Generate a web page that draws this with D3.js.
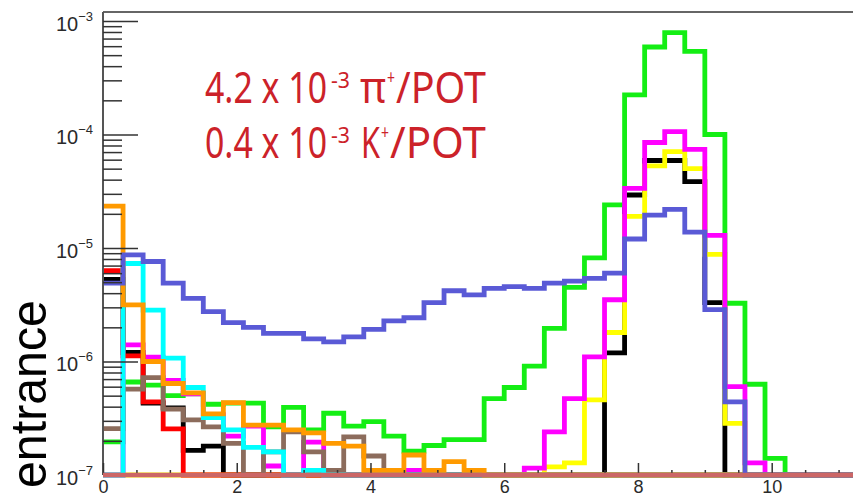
<!DOCTYPE html>
<html>
<head>
<meta charset="utf-8">
<script src="https://cdn.jsdelivr.net/npm/d3@7"></script>
<style>
  body { margin: 0; background: #fff; }
  svg { display: block; }
</style>
</head>
<body>
<svg id="chart" width="853" height="496"></svg>
<script>
// Histogram binning: 40 bins of 0.3 from 0 to 12
const binWidth = 0.3;

// Bin contents per species (entries per POT), bin i covers [0.3*i, 0.3*(i+1))
const black  = [5.3e-6, 1.2e-6, 4.3e-7, 3.9e-7, 1.65e-7, 1.8e-7, 0, 0, 0, 0,
                0, 0, 0, 0, 0, 0, 0, 0, 0, 0,
                0, 0, 0, 0, 0, 1.19e-6, 2.93e-5, 5.9e-5, 5.9e-5, 3.84e-5,
                3.3e-6, 0, 0, 0, 0, 0, 0, 0, 0, 0];
const yellow = [0, 0, 0, 0, 0, 0, 0, 0, 0, 0,
                0, 0, 0, 0, 0, 0, 0, 0, 0, 0,
                0, 0, 1.18e-7, 1.28e-7, 4.6e-7, 1.8e-6, 1.9e-5, 5.3e-5, 7.06e-5, 5.0e-5,
                8.8e-6, 2.85e-7, 0, 0, 0, 0, 0, 0, 0, 0];
const green  = [1.96e-7, 6.6e-7, 6.2e-7, 5.0e-7, 5.2e-7, 4.2e-7, 4.3e-7, 4.3e-7, 2.66e-7, 3.95e-7,
                2.5e-7, 3.5e-7, 2.7e-7, 2.95e-7, 2.2e-7, 1.62e-7, 1.82e-7, 2.05e-7, 2.05e-7, 4.7e-7,
                5.9e-7, 9.1e-7, 1.96e-6, 4.5e-6, 8.2e-6, 2.4e-5, 2.23e-4, 5.9e-4, 7.9e-4, 5.4e-4,
                1.0e-4, 3.26e-6, 6.3e-7, 1.4e-7, 0, 0, 0, 0, 0, 0];
const magenta = [0, 1.4e-6, 1.09e-6, 6.8e-7, 5.2e-7, 3.4e-7, 2.2e-7, 2.7e-7, 1.2e-7, 0,
                1.95e-7, 0, 0, 0, 0, 1.1e-7, 0, 0, 0, 0,
                0, 1.15e-7, 2.4e-7, 4.7e-7, 1.1e-6, 3.5e-6, 3.35e-5, 8.5e-5, 1.06e-4, 7.4e-5,
                1.29e-5, 6.0e-7, 1.28e-7, 0, 0, 0, 0, 0, 0, 0];
const red    = [6.3e-6, 1.12e-6, 4.4e-7, 2.55e-7, 0, 0, 0, 0, 0, 0,
                0, 0, 0, 0, 0, 0, 0, 0, 0, 0,
                0, 0, 0, 0, 0, 0, 0, 0, 0, 0,
                0, 0, 0, 0, 0, 0, 0, 0, 0, 0];
const brown  = [2.56e-7, 5.7e-7, 7.2e-7, 3.8e-7, 3.06e-7, 2.66e-7, 1.9e-7, 0, 1.6e-7, 2.4e-7,
                1.6e-7, 1.1e-7, 2.17e-7, 1.47e-7, 0, 0, 0, 0, 0, 0,
                0, 0, 0, 0, 0, 0, 0, 0, 0, 0,
                0, 0, 0, 0, 0, 0, 0, 0, 0, 0];
const cyan   = [0, 7.3e-6, 2.84e-6, 1.07e-6, 5.9e-7, 3.2e-7, 2.5e-7, 1.75e-7, 1.6e-7, 0,
                1.1e-7, 0, 0, 0, 0, 0, 0, 0, 0, 0,
                0, 0, 0, 0, 0, 0, 0, 0, 0, 0,
                0, 0, 0, 0, 0, 0, 0, 0, 0, 0];
const orange = [2.34e-5, 3.15e-6, 1.0e-6, 6.4e-7, 5.3e-7, 3.45e-7, 4.35e-7, 2.75e-7, 2.75e-7, 2.5e-7,
                2.35e-7, 1.9e-7, 1.8e-7, 1.1e-7, 1.1e-7, 1.5e-7, 1.1e-7, 1.31e-7, 1.1e-7, 0,
                0, 0, 0, 0, 0, 0, 0, 0, 0, 0,
                0, 0, 0, 0, 0, 0, 0, 0, 0, 0];
const blue   = [4.9e-6, 8.7e-6, 7.6e-6, 4.9e-6, 3.6e-6, 2.75e-6, 2.2e-6, 2.0e-6, 1.77e-6, 1.77e-6,
                1.58e-6, 1.49e-6, 1.65e-6, 1.92e-6, 2.28e-6, 2.43e-6, 3.3e-6, 4.2e-6, 3.86e-6, 4.4e-6,
                4.56e-6, 4.4e-6, 4.9e-6, 5.1e-6, 5.4e-6, 6.0e-6, 1.2e-5, 1.95e-5, 2.19e-5, 1.38e-5,
                2.86e-6, 4.4e-7, 0, 0, 0, 0, 0, 0, 0, 0];

// Axis tick values and labels
const xMajorTicks = [0, 2, 4, 6, 8, 10];
const xMinorTicks = d3.range(0, 11.51, 0.5).filter(v => v % 2 !== 0);
const yDecades = [1e-7, 1e-6, 1e-5, 1e-4, 1e-3];
const yDecadeExp = ["−7", "−6", "−5", "−4", "−3"];

// Drawing order: first listed is underneath
const series = [
  { values: black,   color: "#000000" },
  { values: yellow,  color: "#ffff00" },
  { values: green,   color: "#14ee14" },
  { values: magenta, color: "#ff00ff" },
  { values: red,     color: "#ff0000" },
  { values: brown,   color: "#8c6c5c" },
  { values: cyan,    color: "#00ffff" },
  { values: orange,  color: "#ff9a00" },
  { values: blue,    color: "#5a5ad6" }
];

const svg = d3.select("#chart");
const frameLeft = 103, frameBottom = 475, frameTop = 12, frameRight = 853;
const pxPerUnit = 66.87;

const x = d3.scaleLinear().domain([0, 12]).range([frameLeft, frameLeft + 12 * pxPerUnit]);
const y = d3.scaleLog().domain([1e-7, 1.2e-3]).range([frameBottom, frameTop]);
const yMin = y.domain()[0];

// Histograms as step lines
const line = d3.line()
  .x(d => x(d.x))
  .y(d => y(d.v > yMin ? d.v : yMin))
  .curve(d3.curveStepAfter);

const plot = svg.append("g");
plot.append("clipPath").attr("id", "frame")
  .append("rect").attr("x", frameLeft).attr("y", frameTop)
  .attr("width", frameRight - frameLeft).attr("height", frameBottom - frameTop + 4);

const hist = plot.append("g").attr("clip-path", "url(#frame)");
series.forEach(s => {
  const pts = s.values.map((v, i) => ({ x: i * binWidth, v }));
  pts.push({ x: s.values.length * binWidth, v: s.values[s.values.length - 1] });
  hist.append("path")
    .attr("d", line(pts))
    .attr("fill", "none")
    .attr("stroke", s.color)
    .attr("stroke-width", 4.8)
    .attr("stroke-linejoin", "miter");
});

// Frame lines
svg.append("line")
  .attr("x1", frameLeft).attr("x2", frameRight).attr("y1", frameTop).attr("y2", frameTop)
  .attr("stroke", "#666").attr("stroke-width", 2);
svg.append("line")
  .attr("x1", frameLeft).attr("x2", frameLeft).attr("y1", frameTop).attr("y2", frameBottom)
  .attr("stroke", "#555").attr("stroke-width", 2);

// Y axis ticks (drawn inward, to the right of the axis line)
const yMinor = [];
yDecades.slice(0, -1).forEach(d => { for (let k = 2; k <= 9; k++) yMinor.push(d * k); });
for (let k = 2; k <= 9; k++) if (1e-3 * k <= y.domain()[1]) yMinor.push(1e-3 * k);

const yAxisMajor = d3.axisRight(y).tickValues(yDecades).tickSize(35).tickFormat("");
const yAxisMinor = d3.axisRight(y).tickValues(yMinor).tickSize(19).tickFormat("");
[yAxisMajor, yAxisMinor].forEach(ax => {
  const g = svg.append("g").attr("transform", `translate(${frameLeft},0)`).call(ax);
  g.select(".domain").remove();
  g.selectAll(".tick line").attr("stroke", "#333").attr("stroke-width", 1.5);
});

// Y tick labels: 10 with superscript exponent
const yLab = svg.append("g");
yDecades.forEach((d, i) => {
  const t = yLab.append("text")
    .attr("x", 93).attr("y", y(d) + 10)
    .attr("text-anchor", "end")
    .attr("font-family", "Liberation Sans, Arial, sans-serif")
    .attr("fill", "#2a2a2a");
  t.append("tspan").attr("font-size", 20).text("10");
  t.append("tspan").attr("font-size", 13).attr("dy", -10).text(yDecadeExp[i]);
});

// X axis: ticks pointing up into the frame
const xAxisMajor = d3.axisBottom(x).tickValues(xMajorTicks).tickSize(-12).tickPadding(5).tickFormat(d3.format("d"));
const xAxisMinor = d3.axisBottom(x).tickValues(xMinorTicks).tickSize(-5).tickFormat("");
[xAxisMinor, xAxisMajor].forEach(ax => {
  const g = svg.append("g").attr("transform", `translate(0,${frameBottom})`).call(ax);
  g.select(".domain").remove();
  g.selectAll(".tick line").attr("stroke", "#333").attr("stroke-width", 1.5);
  g.selectAll(".tick text")
    .attr("font-family", "Liberation Sans, Arial, sans-serif")
    .attr("font-size", 18).attr("fill", "#2a2a2a");
});

// Bottom edge of the frame
svg.append("line")
  .attr("x1", frameLeft).attr("x2", frameRight).attr("y1", frameBottom).attr("y2", frameBottom)
  .attr("stroke", "#cc6666").attr("stroke-width", 4.5);

// Y axis title
svg.append("text")
  .attr("transform", "translate(46,488) rotate(-90)")
  .attr("font-family", "Liberation Sans, Arial, sans-serif")
  .attr("font-size", 50)
  .attr("textLength", 188)
  .attr("lengthAdjust", "spacingAndGlyphs")
  .attr("fill", "#000")
  .text("entrance");

// Yield annotation: each piece squeezed horizontally to a condensed width
const notePieces = [
  { t: "4.2 x 10", x: 205, y: 103, size: 44, w: 122 },
  { t: "-3",       x: 331, y: 88,  size: 21, w: 19 },
  { t: "π",        x: 360, y: 103, size: 44, w: 26 },
  { t: "+",        x: 387, y: 84,  size: 20, w: 8 },
  { t: "/POT",     x: 396, y: 103, size: 44, w: 90 },
  { t: "0.4 x 10", x: 205, y: 158, size: 44, w: 122 },
  { t: "-3",       x: 331, y: 143, size: 21, w: 19 },
  { t: "K",        x: 361, y: 158, size: 44, w: 19 },
  { t: "+",        x: 381, y: 139, size: 20, w: 8 },
  { t: "/POT",     x: 390, y: 158, size: 44, w: 96 }
];
const note = svg.append("g")
  .attr("font-family", "Noto Sans, Open Sans, sans-serif")
  .attr("fill", "#cc2229");
notePieces.forEach(p => {
  const el = note.append("text").attr("font-size", p.size).text(p.t);
  const natural = el.node().getComputedTextLength();
  el.attr("transform", `translate(${p.x},${p.y}) scale(${p.w / natural},1)`);
});
</script>
</body>
</html>
